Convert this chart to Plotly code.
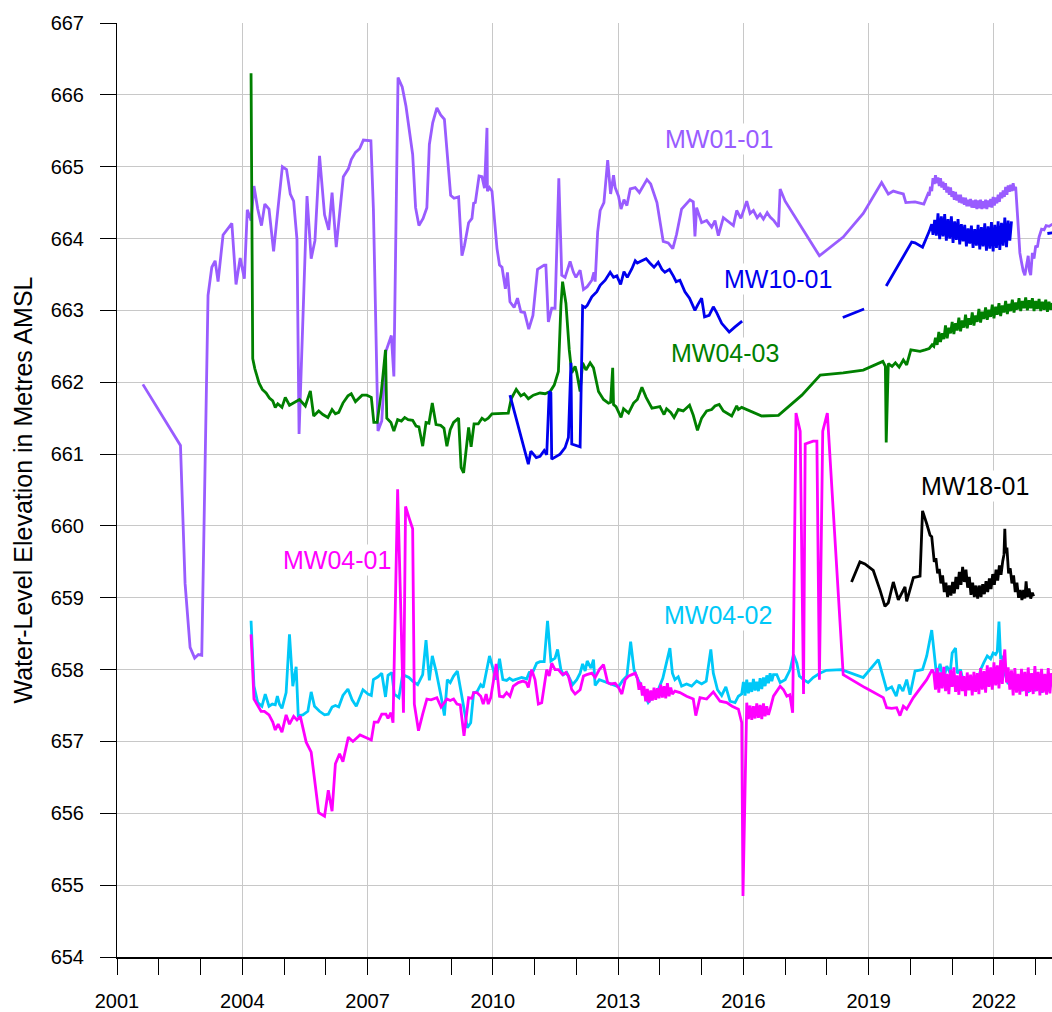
import plotly.graph_objects as go

# ---------------- data (decimal year, water level m AMSL) ----------------
MW01_01 = [
    (2001.62, 661.97), (2002.52, 661.12), (2002.63, 659.20), (2002.75, 658.31), (2002.86, 658.16),
    (2002.95, 658.21), (2003.03, 658.20), (2003.18, 663.21), (2003.27, 663.60), (2003.35, 663.69),
    (2003.42, 663.40), (2003.54, 664.05), (2003.75, 664.21), (2003.85, 663.36), (2003.95, 663.73),
    (2004.05, 663.44), (2004.12, 664.40), (2004.21, 664.25), (2004.28, 664.73), (2004.37, 664.41),
    (2004.46, 664.18), (2004.54, 664.48), (2004.64, 664.41), (2004.75, 663.82), (2004.85, 664.39),
    (2004.96, 665.00), (2005.06, 664.96), (2005.15, 664.62), (2005.23, 664.52), (2005.31, 663.99),
    (2005.36, 661.28), (2005.55, 664.59), (2005.65, 663.72), (2005.74, 663.97), (2005.85, 665.15),
    (2005.97, 664.33), (2006.07, 664.12), (2006.15, 664.64), (2006.25, 663.88), (2006.42, 664.86),
    (2006.54, 664.97), (2006.61, 665.10), (2006.71, 665.20), (2006.81, 665.25), (2006.90, 665.37),
    (2007.08, 665.36), (2007.14, 664.41), (2007.25, 661.32), (2007.34, 661.46), (2007.44, 662.43),
    (2007.57, 662.65), (2007.63, 662.08), (2007.73, 666.24), (2007.83, 666.11), (2007.92, 665.84),
    (2008.08, 665.17), (2008.15, 664.43), (2008.23, 664.18), (2008.33, 664.28), (2008.42, 664.43),
    (2008.48, 665.31), (2008.56, 665.61), (2008.66, 665.82), (2008.75, 665.72), (2008.84, 665.66),
    (2008.90, 665.22), (2008.99, 664.60), (2009.07, 664.56), (2009.18, 664.58), (2009.26, 663.76),
    (2009.32, 663.90), (2009.42, 664.22), (2009.50, 664.28), (2009.54, 664.49), (2009.58, 664.50),
    (2009.67, 664.87), (2009.74, 664.86), (2009.80, 664.70), (2009.86, 665.54), (2009.87, 664.66),
    (2009.92, 664.71), (2009.98, 664.66), (2010.10, 663.86), (2010.16, 663.63), (2010.22, 663.60),
    (2010.30, 663.30), (2010.35, 663.53), (2010.41, 663.12), (2010.51, 663.04), (2010.59, 663.17),
    (2010.67, 662.98), (2010.76, 662.97), (2010.86, 662.74), (2010.96, 662.93), (2011.07, 663.57),
    (2011.23, 663.63), (2011.27, 663.63), (2011.33, 662.84), (2011.41, 663.03), (2011.49, 663.03),
    (2011.58, 664.84), (2011.65, 663.49), (2011.73, 663.46), (2011.85, 663.68), (2011.93, 663.53),
    (2011.99, 663.46), (2012.09, 663.56), (2012.17, 663.29), (2012.26, 663.33), (2012.37, 663.42),
    (2012.42, 663.53), (2012.45, 663.40), (2012.51, 664.09), (2012.57, 664.39), (2012.66, 664.50),
    (2012.75, 665.09), (2012.82, 664.62), (2012.89, 664.88), (2012.93, 664.71), (2013.01, 664.59),
    (2013.07, 664.41), (2013.14, 664.54), (2013.21, 664.46), (2013.29, 664.69), (2013.41, 664.71),
    (2013.51, 664.64), (2013.69, 664.82), (2013.78, 664.76), (2013.93, 664.50), (2014.08, 663.96),
    (2014.20, 663.94), (2014.31, 663.86), (2014.40, 664.06), (2014.52, 664.41), (2014.72, 664.54),
    (2014.80, 664.51), (2014.84, 664.03), (2014.88, 664.43), (2015.00, 664.22), (2015.12, 664.25),
    (2015.24, 664.16), (2015.32, 664.25), (2015.40, 664.04), (2015.52, 664.29), (2015.64, 664.23),
    (2015.76, 664.18), (2015.84, 664.39), (2015.94, 664.28), (2016.08, 664.52), (2016.16, 664.35),
    (2016.24, 664.39), (2016.33, 664.29), (2016.40, 664.34), (2016.48, 664.27), (2016.57, 664.36),
    (2016.64, 664.30), (2016.73, 664.25), (2016.84, 664.16), (2016.88, 664.69), (2017.00, 664.52),
    (2017.82, 663.76), (2018.39, 664.02), (2018.87, 664.35), (2019.31, 664.78), (2019.47, 664.62),
    (2019.59, 664.66), (2019.71, 664.64), (2019.83, 664.62), (2019.89, 664.50), (2020.11, 664.51),
    (2020.32, 664.48), (2020.42, 664.62),
]
MW01_01_logger = [
    (2020.45, 664.60), (2020.48, 664.72), (2020.51, 664.66), (2020.54, 664.84), (2020.57, 664.76),
    (2020.60, 664.88), (2020.63, 664.77), (2020.66, 664.85), (2020.69, 664.73), (2020.72, 664.84),
    (2020.75, 664.71), (2020.78, 664.79), (2020.81, 664.68), (2020.84, 664.77), (2020.87, 664.64),
    (2020.90, 664.72), (2020.93, 664.61), (2020.96, 664.71), (2020.99, 664.58), (2021.02, 664.66),
    (2021.05, 664.54), (2021.08, 664.65), (2021.11, 664.53), (2021.14, 664.61), (2021.17, 664.50),
    (2021.20, 664.61), (2021.23, 664.49), (2021.26, 664.57), (2021.29, 664.47), (2021.32, 664.57),
    (2021.35, 664.45), (2021.38, 664.54), (2021.41, 664.45), (2021.44, 664.55), (2021.47, 664.43),
    (2021.50, 664.53), (2021.53, 664.43), (2021.56, 664.54), (2021.59, 664.41), (2021.62, 664.53),
    (2021.65, 664.42), (2021.68, 664.54), (2021.71, 664.41), (2021.74, 664.52), (2021.77, 664.42),
    (2021.80, 664.54), (2021.83, 664.41), (2021.86, 664.53), (2021.89, 664.44), (2021.92, 664.55),
    (2021.95, 664.43), (2021.98, 664.58), (2022.01, 664.46), (2022.04, 664.57), (2022.07, 664.49),
    (2022.10, 664.61), (2022.13, 664.51), (2022.16, 664.64), (2022.19, 664.56), (2022.22, 664.67),
    (2022.25, 664.58), (2022.28, 664.72), (2022.31, 664.61), (2022.34, 664.74), (2022.37, 664.65),
    (2022.40, 664.75), (2022.43, 664.66), (2022.46, 664.77), (2022.49, 664.67), (2022.52, 664.72),
    (2022.58, 664.18), (2022.62, 663.80), (2022.66, 663.67), (2022.70, 663.55), (2022.74, 663.49),
    (2022.78, 663.62), (2022.82, 663.76), (2022.85, 663.55), (2022.88, 663.49), (2022.92, 663.80),
    (2022.96, 663.72), (2023.00, 663.90), (2023.04, 663.88), (2023.08, 664.02), (2023.14, 664.13),
    (2023.20, 664.12), (2023.25, 664.18), (2023.32, 664.17), (2023.40, 664.20),
]

MW04_03 = [
    (2004.21, 666.30), (2004.25, 662.33), (2004.30, 662.19), (2004.40, 661.99), (2004.48, 661.90),
    (2004.57, 661.85), (2004.65, 661.78), (2004.73, 661.74), (2004.79, 661.65), (2004.85, 661.70),
    (2004.95, 661.65), (2005.03, 661.79), (2005.13, 661.68), (2005.29, 661.74), (2005.37, 661.76),
    (2005.51, 661.67), (2005.63, 661.88), (2005.71, 661.53), (2005.83, 661.60), (2005.93, 661.55),
    (2006.05, 661.51), (2006.15, 661.62), (2006.23, 661.56), (2006.31, 661.58), (2006.41, 661.71),
    (2006.53, 661.81), (2006.61, 661.84), (2006.71, 661.73), (2006.87, 661.82), (2006.98, 661.82),
    (2007.09, 661.79), (2007.15, 661.44), (2007.23, 661.44), (2007.33, 661.87), (2007.43, 662.45),
    (2007.46, 661.50), (2007.56, 661.44), (2007.63, 661.32), (2007.72, 661.48), (2007.81, 661.46),
    (2007.89, 661.51), (2007.97, 661.48), (2008.08, 661.47), (2008.16, 661.39), (2008.23, 661.38),
    (2008.32, 661.11), (2008.40, 661.44), (2008.47, 661.43), (2008.55, 661.71), (2008.64, 661.41),
    (2008.75, 661.40), (2008.83, 661.36), (2008.90, 661.11), (2008.98, 661.34), (2009.06, 661.44),
    (2009.18, 661.50), (2009.24, 660.81), (2009.30, 660.74), (2009.35, 661.02), (2009.42, 661.37),
    (2009.48, 661.10), (2009.55, 661.42), (2009.65, 661.42), (2009.74, 661.50), (2009.81, 661.47),
    (2009.89, 661.50), (2009.98, 661.56), (2010.17, 661.56), (2010.27, 661.57), (2010.37, 661.57),
    (2010.44, 661.77), (2010.56, 661.90), (2010.67, 661.81), (2010.75, 661.84), (2010.85, 661.77),
    (2010.97, 661.82), (2011.13, 661.85), (2011.25, 661.84), (2011.37, 661.87), (2011.47, 661.96),
    (2011.57, 662.15), (2011.63, 663.07), (2011.67, 663.40), (2011.75, 663.10), (2011.83, 662.45),
    (2011.89, 662.13), (2011.97, 662.22), (2012.01, 662.13), (2012.09, 661.87), (2012.15, 662.27),
    (2012.23, 662.17), (2012.33, 662.27), (2012.41, 662.20), (2012.53, 661.87), (2012.65, 661.76),
    (2012.77, 661.71), (2012.82, 661.72), (2012.87, 662.20), (2012.89, 661.69), (2012.95, 661.66),
    (2013.07, 661.51), (2013.13, 661.63), (2013.25, 661.57), (2013.37, 661.71), (2013.46, 661.76),
    (2013.57, 661.93), (2013.67, 661.79), (2013.81, 661.64), (2013.91, 661.65), (2014.00, 661.66),
    (2014.10, 661.55), (2014.16, 661.63), (2014.26, 661.58), (2014.34, 661.51), (2014.44, 661.62),
    (2014.56, 661.60), (2014.71, 661.68), (2014.80, 661.54), (2014.90, 661.33), (2015.00, 661.50),
    (2015.12, 661.60), (2015.24, 661.62), (2015.32, 661.67), (2015.42, 661.69), (2015.52, 661.60),
    (2015.72, 661.53), (2015.84, 661.67), (2015.88, 661.62), (2015.96, 661.65), (2016.44, 661.53),
    (2016.84, 661.54), (2017.40, 661.82), (2017.84, 662.10), (2018.39, 662.13), (2018.87, 662.17),
    (2019.34, 662.29), (2019.40, 662.22), (2019.42, 661.16), (2019.47, 662.26), (2019.56, 662.22),
    (2019.64, 662.27), (2019.73, 662.21), (2019.83, 662.31), (2019.91, 662.24), (2020.01, 662.45),
    (2020.09, 662.44), (2020.23, 662.43), (2020.35, 662.45), (2020.45, 662.47), (2020.52, 662.52),
]
MW04_03_logger = [
    (2020.56, 662.50), (2020.60, 662.62), (2020.64, 662.52), (2020.68, 662.70), (2020.72, 662.56),
    (2020.76, 662.68), (2020.80, 662.60), (2020.84, 662.79), (2020.88, 662.61), (2020.92, 662.76),
    (2020.96, 662.68), (2021.00, 662.84), (2021.04, 662.67), (2021.08, 662.82), (2021.12, 662.72),
    (2021.16, 662.90), (2021.20, 662.71), (2021.24, 662.86), (2021.28, 662.76), (2021.32, 662.94),
    (2021.36, 662.75), (2021.40, 662.89), (2021.44, 662.80), (2021.48, 662.97), (2021.52, 662.79),
    (2021.56, 662.93), (2021.60, 662.84), (2021.64, 663.02), (2021.68, 662.83), (2021.72, 662.98),
    (2021.76, 662.88), (2021.80, 663.04), (2021.84, 662.87), (2021.88, 663.01), (2021.92, 662.91),
    (2021.96, 663.08), (2022.00, 662.89), (2022.04, 663.05), (2022.08, 662.94), (2022.12, 663.10),
    (2022.16, 662.92), (2022.20, 663.07), (2022.24, 662.97), (2022.28, 663.13), (2022.32, 662.95),
    (2022.36, 663.09), (2022.40, 662.99), (2022.44, 663.15), (2022.48, 662.97), (2022.52, 663.11),
    (2022.56, 663.01), (2022.60, 663.17), (2022.64, 662.99), (2022.68, 663.13), (2022.72, 663.03),
    (2022.76, 663.18), (2022.80, 663.00), (2022.84, 663.14), (2022.88, 663.03), (2022.92, 663.17),
    (2022.96, 662.99), (2023.00, 663.13), (2023.04, 663.02), (2023.08, 663.16), (2023.12, 662.99),
    (2023.16, 663.12), (2023.20, 663.01), (2023.24, 663.15), (2023.28, 662.98), (2023.32, 663.12),
    (2023.36, 663.01), (2023.40, 663.10),
]

MW10_01 = [
    (2010.41, 661.82), (2010.85, 660.86), (2010.91, 661.04), (2011.04, 660.95), (2011.13, 660.97),
    (2011.23, 661.05), (2011.29, 660.99), (2011.35, 661.87), (2011.39, 661.85), (2011.41, 660.93),
    (2011.61, 661.00), (2011.73, 661.09), (2011.81, 661.23), (2011.87, 662.27), (2011.89, 661.14),
    (2012.09, 661.10), (2012.15, 663.06), (2012.21, 663.04), (2012.26, 663.07), (2012.37, 663.19),
    (2012.49, 663.26), (2012.57, 663.35), (2012.69, 663.42), (2012.81, 663.53), (2012.89, 663.46),
    (2012.97, 663.48), (2013.06, 663.36), (2013.14, 663.54), (2013.22, 663.46), (2013.33, 663.58),
    (2013.41, 663.69), (2013.46, 663.66), (2013.53, 663.68), (2013.67, 663.72), (2013.76, 663.66),
    (2013.86, 663.60), (2013.96, 663.67), (2014.05, 663.57), (2014.12, 663.53), (2014.23, 663.57),
    (2014.32, 663.48), (2014.39, 663.40), (2014.48, 663.42), (2014.60, 663.26), (2014.71, 663.17),
    (2014.84, 663.00), (2014.91, 663.08), (2015.00, 663.17), (2015.07, 662.91), (2015.18, 662.93),
    (2015.28, 663.05), (2015.36, 662.97), (2015.48, 662.82), (2015.56, 662.77), (2015.66, 662.70),
    (2015.80, 662.77), (2015.97, 662.85),
    (None, None),
    (2018.38, 662.90), (2018.89, 663.02),
    (None, None),
    (2019.42, 663.34), (2020.03, 663.95), (2020.11, 663.94), (2020.29, 663.88), (2020.45, 664.10),
    (2020.51, 664.20),
]
MW10_01_logger = [
    (2020.54, 664.05), (2020.58, 664.26), (2020.62, 664.04), (2020.66, 664.35), (2020.70, 663.99),
    (2020.74, 664.31), (2020.78, 664.03), (2020.82, 664.34), (2020.86, 663.97), (2020.90, 664.27),
    (2020.94, 664.00), (2020.98, 664.31), (2021.02, 663.94), (2021.06, 664.24), (2021.10, 663.98),
    (2021.14, 664.27), (2021.18, 663.92), (2021.22, 664.20), (2021.26, 663.96), (2021.30, 664.19),
    (2021.34, 663.89), (2021.38, 664.14), (2021.42, 663.93), (2021.46, 664.18), (2021.50, 663.87),
    (2021.54, 664.13), (2021.58, 663.90), (2021.62, 664.19), (2021.66, 663.85), (2021.70, 664.16),
    (2021.74, 663.89), (2021.78, 664.21), (2021.82, 663.83), (2021.86, 664.17), (2021.90, 663.86),
    (2021.94, 664.23), (2021.98, 663.82), (2022.02, 664.19), (2022.06, 663.87), (2022.10, 664.24),
    (2022.14, 663.84), (2022.18, 664.22), (2022.22, 663.90), (2022.26, 664.29), (2022.30, 663.88),
    (2022.34, 664.25), (2022.38, 663.97), (2022.42, 664.24),
    (None, None),
    (2023.28, 664.07), (2023.40, 664.08),
]

MW04_02 = [
    (2004.21, 658.68), (2004.28, 657.77), (2004.37, 657.54), (2004.47, 657.49), (2004.55, 657.66),
    (2004.64, 657.49), (2004.72, 657.52), (2004.79, 657.51), (2004.84, 657.63), (2004.89, 657.52),
    (2004.95, 657.46), (2005.05, 657.68), (2005.13, 658.49), (2005.21, 657.77), (2005.29, 658.04),
    (2005.34, 657.36), (2005.45, 657.37), (2005.57, 657.42), (2005.65, 657.69), (2005.73, 657.49),
    (2005.85, 657.42), (2005.97, 657.37), (2006.06, 657.38), (2006.15, 657.48), (2006.23, 657.50),
    (2006.31, 657.48), (2006.41, 657.64), (2006.53, 657.73), (2006.63, 657.58), (2006.73, 657.49),
    (2006.89, 657.72), (2007.01, 657.66), (2007.09, 657.64), (2007.14, 657.86), (2007.25, 657.90),
    (2007.34, 657.95), (2007.43, 657.62), (2007.49, 657.92), (2007.58, 657.96), (2007.64, 657.66),
    (2007.75, 657.61), (2007.84, 657.93), (2007.99, 657.89), (2008.08, 657.84), (2008.20, 657.79),
    (2008.32, 657.93), (2008.40, 658.41), (2008.48, 657.85), (2008.55, 658.19), (2008.64, 657.98),
    (2008.76, 657.63), (2008.84, 657.36), (2008.91, 657.86), (2008.98, 657.82), (2009.06, 657.91),
    (2009.15, 657.98), (2009.23, 657.72), (2009.34, 657.36), (2009.39, 657.19), (2009.47, 657.26),
    (2009.54, 657.68), (2009.62, 657.69), (2009.71, 657.79), (2009.77, 657.75), (2009.86, 658.02),
    (2009.92, 658.19), (2010.01, 658.00), (2010.08, 657.86), (2010.16, 658.15), (2010.24, 657.86),
    (2010.33, 657.85), (2010.40, 657.88), (2010.48, 657.85), (2010.59, 657.87), (2010.69, 657.89),
    (2010.81, 657.87), (2010.87, 657.96), (2010.96, 657.97), (2011.05, 658.09), (2011.13, 658.11),
    (2011.23, 658.11), (2011.31, 658.68), (2011.39, 658.12), (2011.49, 658.16), (2011.55, 658.28),
    (2011.63, 658.00), (2011.69, 657.93), (2011.77, 657.96), (2011.85, 657.85), (2011.91, 657.79),
    (2012.01, 657.86), (2012.09, 657.95), (2012.15, 658.08), (2012.21, 657.98), (2012.26, 658.12),
    (2012.35, 658.02), (2012.41, 658.14), (2012.45, 657.78), (2012.55, 657.86), (2012.65, 657.84),
    (2012.73, 657.82), (2012.81, 657.80), (2012.90, 657.79), (2013.01, 657.76), (2013.11, 657.85),
    (2013.21, 657.91), (2013.30, 658.39), (2013.38, 658.00), (2013.46, 657.88), (2013.57, 657.75),
    (2013.65, 657.63), (2013.72, 657.54), (2013.84, 657.63), (2013.96, 657.72), (2014.07, 657.88),
    (2014.16, 658.09), (2014.24, 658.30), (2014.30, 657.95), (2014.36, 657.86), (2014.44, 657.90),
    (2014.52, 657.77), (2014.64, 657.80), (2014.76, 657.77), (2014.88, 657.84), (2015.00, 657.80),
    (2015.11, 657.84), (2015.22, 658.28), (2015.28, 657.95), (2015.38, 657.72), (2015.48, 657.64),
    (2015.58, 657.76), (2015.68, 657.56), (2015.80, 657.54), (2015.88, 657.63), (2015.96, 657.66),
    (2016.00, 657.83), (2016.04, 657.64), (2016.08, 657.86), (2016.12, 657.67), (2016.16, 657.82),
    (2016.20, 657.69), (2016.24, 657.87), (2016.28, 657.71), (2016.32, 657.83), (2016.36, 657.70),
    (2016.40, 657.88), (2016.44, 657.73), (2016.48, 657.89), (2016.52, 657.77), (2016.56, 657.92),
    (2016.60, 657.81), (2016.64, 657.95), (2016.68, 657.84), (2016.72, 657.93), (2016.80, 657.93),
    (2016.88, 657.82), (2017.00, 657.86), (2017.12, 658.00), (2017.20, 658.21), (2017.28, 658.09),
    (2017.34, 657.91), (2017.44, 657.86), (2017.55, 657.82), (2017.67, 657.89), (2017.83, 657.95),
    (2017.99, 657.99), (2018.35, 658.00), (2018.87, 657.89), (2019.23, 658.14), (2019.43, 657.72),
    (2019.55, 657.76), (2019.66, 657.63), (2019.73, 657.79), (2019.82, 657.70), (2019.91, 657.86),
    (2019.99, 657.65), (2020.11, 657.98), (2020.29, 658.00), (2020.39, 658.19), (2020.51, 658.55),
    (2020.59, 658.09),
]
MW04_02_logger = [
    (2020.63, 657.90), (2020.71, 658.08), (2020.79, 657.85), (2020.87, 658.05), (2020.95, 657.95),
    (2021.00, 658.23), (2021.08, 658.30), (2021.12, 657.95), (2021.20, 658.00), (2021.28, 657.80),
    (2021.36, 657.89), (2021.44, 657.75), (2021.52, 657.90), (2021.60, 657.78), (2021.68, 658.00),
    (2021.76, 658.10), (2021.84, 658.19), (2021.92, 658.15), (2021.98, 658.23), (2022.04, 658.21),
    (2022.08, 658.25), (2022.12, 658.67), (2022.16, 658.15), (2022.20, 658.19), (2022.26, 657.95),
    (2022.34, 657.80), (2022.42, 657.90), (2022.50, 657.72), (2022.58, 657.88), (2022.66, 657.70),
    (2022.74, 657.86), (2022.82, 657.68), (2022.90, 657.88), (2022.98, 657.70), (2023.06, 657.86),
    (2023.14, 657.68), (2023.22, 657.88), (2023.30, 657.70), (2023.40, 657.85),
]

MW04_01 = [
    (2004.21, 658.49), (2004.28, 657.59), (2004.37, 657.50), (2004.45, 657.42), (2004.53, 657.42),
    (2004.64, 657.37), (2004.73, 657.27), (2004.79, 657.16), (2004.86, 657.24), (2004.95, 657.13),
    (2005.05, 657.37), (2005.13, 657.24), (2005.23, 657.35), (2005.31, 657.30), (2005.39, 657.35),
    (2005.53, 656.99), (2005.65, 656.85), (2005.83, 656.01), (2005.97, 655.96), (2006.06, 656.32),
    (2006.15, 656.03), (2006.23, 656.69), (2006.33, 656.83), (2006.41, 656.72), (2006.54, 657.06),
    (2006.65, 657.00), (2006.82, 657.09), (2006.97, 657.05), (2007.09, 657.02), (2007.16, 657.27),
    (2007.25, 657.27), (2007.34, 657.38), (2007.44, 657.38), (2007.49, 657.32), (2007.56, 657.40),
    (2007.61, 657.26), (2007.72, 660.51), (2007.86, 657.40), (2007.91, 660.27), (2008.00, 660.10),
    (2008.08, 659.96), (2008.12, 657.52), (2008.22, 657.15), (2008.32, 657.38), (2008.42, 657.59),
    (2008.52, 657.58), (2008.66, 657.61), (2008.76, 657.48), (2008.83, 657.54), (2008.90, 657.59),
    (2008.98, 657.57), (2009.06, 657.59), (2009.14, 657.52), (2009.22, 657.51), (2009.31, 657.08),
    (2009.42, 657.61), (2009.50, 657.60), (2009.54, 657.68), (2009.62, 657.68), (2009.71, 657.63),
    (2009.77, 657.52), (2009.84, 657.66), (2009.89, 657.52), (2009.95, 657.61), (2010.08, 658.08),
    (2010.16, 657.63), (2010.25, 657.62), (2010.33, 657.68), (2010.41, 657.63), (2010.49, 657.77),
    (2010.61, 657.82), (2010.72, 657.84), (2010.80, 657.82), (2010.85, 657.75), (2010.93, 658.00),
    (2011.01, 657.86), (2011.09, 657.52), (2011.17, 657.54), (2011.29, 658.00), (2011.35, 657.91),
    (2011.41, 658.09), (2011.49, 658.00), (2011.57, 658.00), (2011.67, 657.93), (2011.75, 657.96),
    (2011.81, 657.91), (2011.89, 657.72), (2011.97, 657.66), (2012.09, 657.72), (2012.17, 657.91),
    (2012.25, 657.93), (2012.37, 657.95), (2012.45, 657.89), (2012.55, 658.00), (2012.65, 658.07),
    (2012.75, 657.82), (2012.82, 657.80), (2012.93, 657.81), (2013.01, 657.75), (2013.09, 657.66),
    (2013.17, 657.86), (2013.25, 657.91), (2013.33, 657.93), (2013.41, 657.95), (2013.46, 657.88),
    (2013.50, 657.72), (2013.54, 657.82), (2013.58, 657.64), (2013.62, 657.77), (2013.66, 657.56),
    (2013.70, 657.73), (2013.74, 657.54), (2013.78, 657.71), (2013.82, 657.57), (2013.86, 657.75),
    (2013.90, 657.58), (2013.94, 657.74), (2013.98, 657.60), (2014.02, 657.79), (2014.06, 657.61),
    (2014.10, 657.77), (2014.14, 657.60), (2014.18, 657.81), (2014.22, 657.63), (2014.26, 657.75),
    (2014.30, 657.66), (2014.36, 657.70), (2014.48, 657.68), (2014.64, 657.63), (2014.80, 657.59),
    (2014.86, 657.36), (2014.96, 657.61), (2015.12, 657.59), (2015.28, 657.69), (2015.44, 657.56),
    (2015.60, 657.54), (2015.73, 657.49), (2015.88, 657.45), (2015.96, 657.26), (2015.99, 654.85),
    (2016.08, 657.54), (2016.12, 657.31), (2016.16, 657.50), (2016.20, 657.30), (2016.24, 657.49),
    (2016.28, 657.32), (2016.32, 657.53), (2016.36, 657.33), (2016.40, 657.51), (2016.44, 657.31),
    (2016.48, 657.53), (2016.52, 657.35), (2016.56, 657.49), (2016.60, 657.37), (2016.64, 657.45),
    (2016.72, 657.63), (2016.88, 657.77), (2016.96, 657.72), (2017.04, 657.63), (2017.11, 657.65),
    (2017.18, 657.40), (2017.26, 661.57), (2017.36, 661.32), (2017.44, 657.66), (2017.48, 661.14),
    (2017.67, 661.18), (2017.76, 661.18), (2017.82, 657.86), (2017.90, 661.32), (2018.01, 661.57),
    (2018.39, 657.93), (2018.91, 657.75), (2019.35, 657.61), (2019.43, 657.47), (2019.55, 657.46),
    (2019.67, 657.47), (2019.75, 657.36), (2019.83, 657.49), (2019.91, 657.45), (2020.07, 657.61),
    (2020.39, 657.86), (2020.52, 658.00),
]
MW04_01_logger = [
    (2020.56, 657.95), (2020.60, 657.72), (2020.64, 658.02), (2020.68, 657.68), (2020.72, 657.96),
    (2020.76, 657.74), (2020.80, 658.04), (2020.84, 657.70), (2020.88, 657.94), (2020.92, 657.66),
    (2020.96, 658.00), (2021.00, 657.76), (2021.04, 658.03), (2021.08, 657.69), (2021.12, 657.92),
    (2021.16, 657.65), (2021.20, 657.98), (2021.24, 657.70), (2021.28, 657.91), (2021.32, 657.63),
    (2021.36, 657.96), (2021.40, 657.71), (2021.44, 657.93), (2021.48, 657.64), (2021.52, 657.97),
    (2021.56, 657.69), (2021.60, 657.95), (2021.64, 657.66), (2021.68, 658.02), (2021.72, 657.72),
    (2021.76, 657.98), (2021.80, 657.68), (2021.84, 658.06), (2021.88, 657.76), (2021.92, 658.03),
    (2021.96, 657.72), (2022.00, 658.10), (2022.04, 657.78), (2022.08, 658.06), (2022.12, 657.74),
    (2022.16, 658.14), (2022.20, 657.80), (2022.24, 658.18), (2022.26, 658.28), (2022.30, 657.82),
    (2022.34, 658.03), (2022.38, 657.72), (2022.42, 657.99), (2022.46, 657.64), (2022.50, 658.02),
    (2022.54, 657.68), (2022.58, 657.94), (2022.62, 657.65), (2022.66, 658.01), (2022.70, 657.70),
    (2022.74, 657.97), (2022.78, 657.63), (2022.82, 658.03), (2022.86, 657.69), (2022.90, 657.95),
    (2022.94, 657.66), (2022.98, 658.05), (2023.02, 657.70), (2023.06, 657.97), (2023.10, 657.64),
    (2023.14, 658.01), (2023.18, 657.68), (2023.22, 657.94), (2023.26, 657.65), (2023.30, 658.02),
    (2023.34, 657.67), (2023.38, 657.95), (2023.40, 657.80),
]

MW18_01 = [
    (2018.59, 659.22), (2018.79, 659.50), (2018.91, 659.47), (2019.11, 659.38), (2019.27, 659.11),
    (2019.39, 658.88), (2019.47, 658.93), (2019.59, 659.22), (2019.71, 658.97), (2019.79, 659.05),
    (2019.87, 659.15), (2019.91, 658.95), (2019.99, 659.10), (2020.07, 659.28), (2020.23, 659.30),
    (2020.29, 660.21), (2020.39, 660.03), (2020.47, 659.87), (2020.51, 659.85),
]
MW18_01_logger = [
    (2020.53, 659.72), (2020.57, 659.50), (2020.61, 659.55), (2020.65, 659.34), (2020.69, 659.40),
    (2020.73, 659.20), (2020.77, 659.31), (2020.81, 659.08), (2020.85, 659.21), (2020.89, 659.01),
    (2020.93, 659.17), (2020.97, 659.03), (2021.01, 659.22), (2021.05, 659.06), (2021.09, 659.29),
    (2021.13, 659.12), (2021.17, 659.36), (2021.21, 659.18), (2021.25, 659.43), (2021.29, 659.22),
    (2021.33, 659.39), (2021.37, 659.14), (2021.41, 659.29), (2021.45, 659.04), (2021.49, 659.21),
    (2021.53, 659.01), (2021.57, 659.17), (2021.61, 658.99), (2021.65, 659.17), (2021.69, 659.01),
    (2021.73, 659.19), (2021.77, 659.05), (2021.81, 659.23), (2021.85, 659.08), (2021.89, 659.27),
    (2021.93, 659.12), (2021.97, 659.33), (2022.01, 659.18), (2022.05, 659.39), (2022.09, 659.24),
    (2022.13, 659.45), (2022.17, 659.32), (2022.21, 659.51), (2022.24, 659.60), (2022.26, 659.96),
    (2022.28, 659.62), (2022.31, 659.70), (2022.35, 659.34), (2022.39, 659.41), (2022.43, 659.20),
    (2022.47, 659.31), (2022.51, 659.08), (2022.55, 659.21), (2022.59, 659.00), (2022.63, 659.11),
    (2022.67, 658.97), (2022.71, 659.11), (2022.74, 658.99), (2022.77, 659.23), (2022.80, 659.01),
    (2022.84, 659.13), (2022.88, 658.99), (2022.92, 659.07), (2022.95, 659.02),
]

# labels: (text, year, level, colour)
WELL_LABELS = [
    ("MW01-01", 2015.42, 665.39, "#995CFF"),
    ("MW10-01", 2016.84, 663.43, "#0000EE"),
    ("MW04-03", 2015.56, 662.40, "#008000"),
    ("MW18-01", 2021.55, 660.55, "#000000"),
    ("MW04-01", 2006.28, 659.53, "#FF00FF"),
    ("MW04-02", 2015.38, 658.76, "#00C8F8"),
]

X_TICKS = [2001, 2004, 2007, 2010, 2013, 2016, 2019, 2022]
Y_TICKS = list(range(654, 668))

SERIES = [
    ("MW01-01", MW01_01 + MW01_01_logger, "#995CFF"),
    ("MW04-03", MW04_03 + MW04_03_logger, "#008000"),
    ("MW10-01", MW10_01 + MW10_01_logger, "#0000EE"),
    ("MW04-02", MW04_02 + MW04_02_logger, "#00C8F8"),
    ("MW04-01", MW04_01 + MW04_01_logger, "#FF00FF"),
    ("MW18-01", MW18_01 + MW18_01_logger, "#000000"),
]

FONT = "Arial, 'Liberation Sans', sans-serif"

fig = go.Figure()
for name, pts, col in SERIES:
    fig.add_trace(go.Scatter(
        x=[p[0] for p in pts], y=[p[1] for p in pts], mode="lines", name=name,
        line=dict(color=col, width=2.8), connectgaps=False, hoverinfo="skip",
    ))

for text, xx, yy, col in WELL_LABELS:
    fig.add_annotation(x=xx, y=yy, text=text, showarrow=False, bgcolor="white",
                       borderpad=1, font=dict(family=FONT, size=25, color=col))

fig.update_layout(
    width=1052, height=1012,
    margin=dict(l=117, r=0, t=23, b=49),
    paper_bgcolor="white", plot_bgcolor="white",
    showlegend=False,
    font=dict(family=FONT, color="black"),
)
fig.update_xaxes(
    range=[2001, 2023.39], tickmode="array", tickvals=X_TICKS,
    ticktext=[str(v) for v in X_TICKS],
    ticks="outside", ticklen=16, tickwidth=1, tickcolor="black",
    tickfont=dict(family=FONT, size=20, color="black"), ticklabelstandoff=9,
    showgrid=True, gridcolor="#C8C8C8", gridwidth=1.3,
    showline=True, linecolor="black", linewidth=1.5, zeroline=False,
    minor=dict(tickmode="linear", tick0=2001, dtick=1, ticks="outside", ticklen=16,
               tickwidth=1, tickcolor="black", showgrid=False),
)
fig.update_yaxes(
    range=[654, 667], tickmode="array", tickvals=Y_TICKS,
    ticks="outside", ticklen=16, tickwidth=1, tickcolor="black",
    tickfont=dict(family=FONT, size=20, color="black"), ticklabelstandoff=12,
    showgrid=True, gridcolor="#C8C8C8", gridwidth=1.3,
    showline=True, linecolor="black", linewidth=1, zeroline=False,
    title=dict(text="Water-Level Elevation in Metres AMSL",
               font=dict(family=FONT, size=25, color="black"), standoff=10),
)

fig.write_html("out.html", config={"displayModeBar": False},
               post_script="document.body.style.margin='0';")
